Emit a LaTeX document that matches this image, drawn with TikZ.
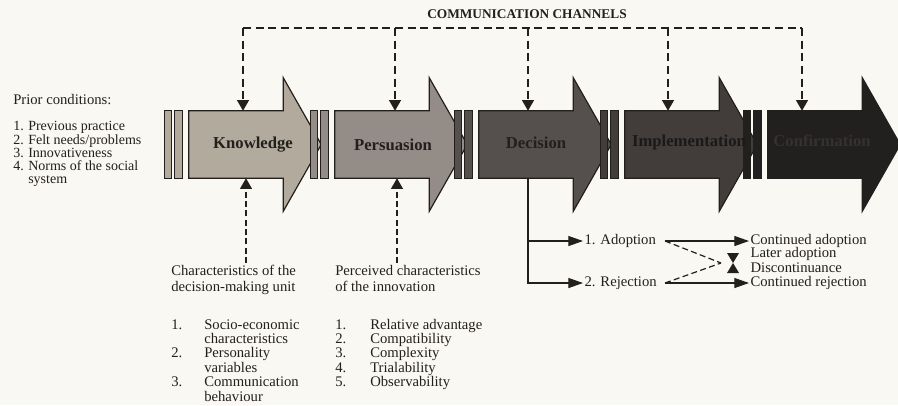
\documentclass[tikz,border=0pt]{standalone}
\usepackage{fontspec}
\setmainfont{Liberation Serif}
\usetikzlibrary{arrows.meta}
\definecolor{bgc}{HTML}{FAF8F3}
\definecolor{ink}{HTML}{231F1D}
\definecolor{cK}{HTML}{B3AA9E}
\definecolor{cP}{HTML}{948C86}
\definecolor{cD}{HTML}{55504D}
\definecolor{cI}{HTML}{423D3B}
\definecolor{cC}{HTML}{221F1F}
\definecolor{tC}{HTML}{363130}
\tikzset{
 shaft/.style={minimum width=70.5pt, minimum height=50.25pt, inner sep=0pt},
 outl/.style={draw=ink, line width=0.9pt, line join=miter},
 stlabel/.style={font=\fontsize{12.5}{14}\selectfont\bfseries, inner sep=0pt},
 txt/.style={font=\fontsize{11}{10.7}\selectfont, text=ink, inner sep=0pt, align=left},
 chan/.style={draw=ink, line width=0.9pt, dash pattern=on 6pt off 3.5pt},
 chanb/.style={draw=ink, line width=0.9pt, dash pattern=on 4.5pt off 2.5pt},
 dtip/.style={-{Triangle[length=8pt,width=9pt]}},
 otip/.style={-{Triangle[length=11pt,width=7.5pt]}},
 solidln/.style={draw=ink, line width=0.9pt},
}
\newcommand\stagearrowx[3]{%
 \node[shaft] (#1) at (#2+47,144.5) {};
 \draw[outl, fill=#3] ([xshift=-18pt]#1.north west) rectangle ([xshift=-12.75pt]#1.south west);
 \draw[outl, fill=#3] ([xshift=-10.5pt]#1.north west) rectangle ([xshift=-4.5pt]#1.south west);
 \draw[outl, fill=#3] (#1.north west) -- (#1.north east) -- ([yshift=24.75pt]#1.north east) -- ([xshift=28.5pt]#1.east) -- ([yshift=-24.75pt]#1.south east) -- (#1.south east) -- (#1.south west) -- cycle;
}
\begin{document}
\begin{tikzpicture}[x=0.75pt,y=-0.75pt]
\fill[bgc] (0,0) rectangle (898,405);
\useasboundingbox (0,0) rectangle (898,405);

% stage arrows
\stagearrowx{know}{189}{cK}
\stagearrowx{pers}{335}{cP}
\stagearrowx{dec}{479}{cD}
\stagearrowx{impl}{625}{cI}
\stagearrowx{conf}{768}{cC}

\node[stlabel, text=ink] (kl) at (253,145) {Knowledge};
\node[stlabel, text=ink] (pl) at (393,145) {Persuasion};
\node[stlabel, text=ink] (dl) at (536,143) {Decision};
\node[stlabel, text=black!90] (il) at (689,142) {Implementation};
\node[stlabel, text=tC] (cl) at (822,141) {Confirmation};

% communication channels
\node[font=\fontsize{10}{12}\selectfont\bfseries, text=ink, inner sep=0pt] (cc) at (527,14) {COMMUNICATION CHANNELS};
\coordinate (c1) at (243,28);
\coordinate (c2) at (395,28);
\coordinate (c3) at (528,28);
\coordinate (c4) at (668,28);
\coordinate (c5) at (802,28);
\draw[chan] (c1) -- (c5);
\foreach \c/\s in {c1/know, c2/pers, c3/dec, c4/impl, c5/conf}
  \draw[chan, dtip] (\c) -- (\c |- \s.north);

% prior conditions
\node[txt, anchor=base west] (prh) at (13,104) {Prior conditions:};
\node[txt, anchor=base west, font=\fontsize{10.5}{9.6}\selectfont] (prl) at (13,130.5)
 {\begin{tabular}[t]{@{}p{11.25pt}@{}l@{}}1.&Previous practice\\2.&Felt needs/problems\\3.&Innovativeness\\4.&Norms of the social\\&system\end{tabular}};

% characteristics of the decision-making unit
\node[txt, anchor=base west] (kh) at (171,291.5) {Characteristics of the\\[1pt]decision-making unit};
\node[txt, anchor=base west] (klist) at (171,329)
 {\begin{tabular}[t]{@{}p{24.75pt}@{}l@{}}1.&Socio-economic\\&characteristics\\2.&Personality\\&variables\\3.&Communication\\&behaviour\end{tabular}};
\coordinate (ku) at (246,263);
\draw[chanb, dtip] (ku) -- (ku |- know.south);

% perceived characteristics of the innovation
\node[txt, anchor=base west] (ph) at (335,291.5) {Perceived characteristics\\[1pt]of the innovation};
\node[txt, anchor=base west] (plist) at (335,329)
 {\begin{tabular}[t]{@{}p{26.25pt}@{}l@{}}1.&Relative advantage\\2.&Compatibility\\3.&Complexity\\4.&Trialability\\5.&Observability\end{tabular}};
\coordinate (pu) at (397,263);
\draw[chanb, dtip] (pu) -- (pu |- pers.south);

% decision outcomes
\coordinate (dx) at (528,0);
\node[txt, anchor=west, inner sep=1pt] (adopt) at (583,241) {1. Adoption};
\node[txt, anchor=west, inner sep=1pt] (rej) at (583,283) {2. Rejection};
\draw[solidln, otip] (dec.south -| dx) |- (rej.west);
\draw[solidln, otip] (adopt.west -| dx) -- (adopt.west);

\node[txt, anchor=west, inner sep=1pt] (cad) at (749,241) {Continued adoption};
\node[txt, anchor=west, inner sep=1pt] (lad) at (749,254) {Later adoption};
\node[txt, anchor=west, inner sep=1pt] (disc) at (749,268) {Discontinuance};
\node[txt, anchor=west, inner sep=1pt] (crej) at (749,283) {Continued rejection};

\coordinate (a0) at (665,241);
\coordinate (r0) at (665,283);
\coordinate (x0) at (721,263);
\draw[solidln, otip] (a0) -- (cad.west);
\draw[solidln, otip] (r0) -- (crej.west);
\draw[chanb] (a0) -- (x0);
\draw[chanb] (r0) -- (x0);
\coordinate (hg) at (733,263);
\fill[ink] (727,253) -- (739,253) -- (hg) -- cycle;
\fill[ink] (727,273) -- (739,273) -- (hg) -- cycle;
\end{tikzpicture}
\end{document}
